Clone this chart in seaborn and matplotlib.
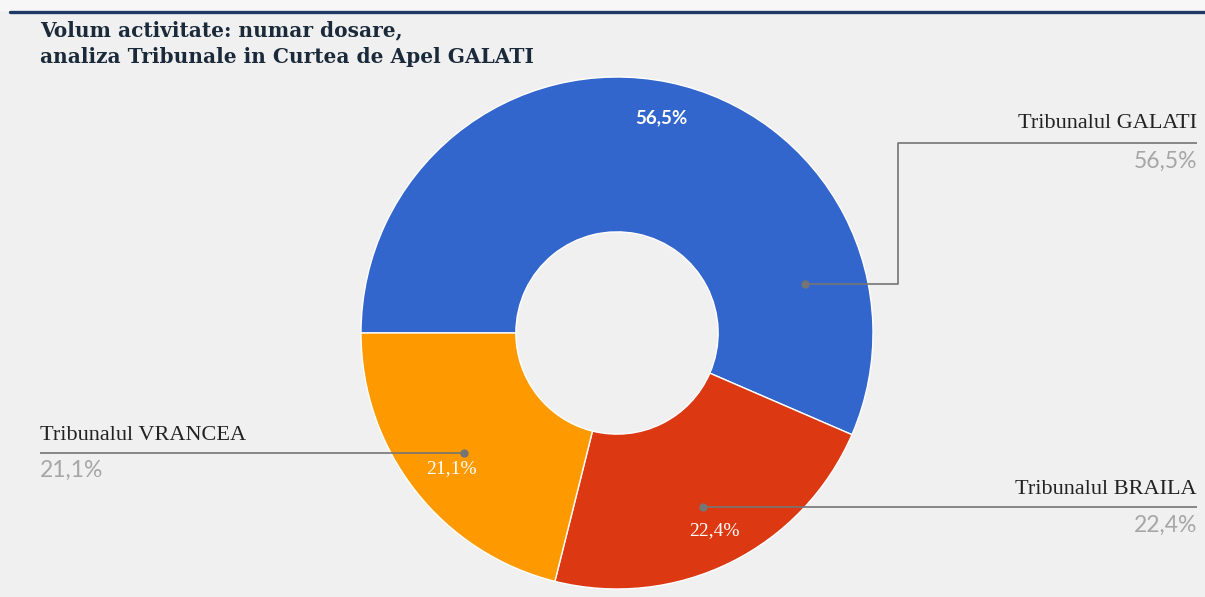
import numpy as np
import matplotlib
matplotlib.use("Agg")
import matplotlib.pyplot as plt
import seaborn as sns

# ── Date ──────────────────────────────────────────────────────────────────────
tribunale = ["Tribunalul GALATI", "Tribunalul BRAILA", "Tribunalul VRANCEA"]
procente = [56.5, 22.4, 21.1]
culori = ["#3366cc", "#dc3912", "#ff9900"]
titlu = "Volum activitate: numar dosare,\nanaliza Tribunale in Curtea de Apel GALATI"


def fmt(p):
    return f"{p:.1f}%".replace(".", ",")


# ── Tema ──────────────────────────────────────────────────────────────────────
sns.set_theme(style="white", rc={"figure.facecolor": "#f0f0f0",
                                 "axes.facecolor": "#f0f0f0"})
plt.rcParams["font.family"] = ["Liberation Serif", "DejaVu Serif"]

W, H = 1205, 597
fig = plt.figure(figsize=(W / 100, H / 100), dpi=100)
ax = fig.add_axes([0, 0, 1, 1])

# donut: centru si raza in pixeli (y in sus)
cx, cy, R = 617, H - 333, 256
wedges, texts, autotexts = ax.pie(
    procente, colors=culori, startangle=180, counterclock=False,
    center=(cx, cy), radius=R, autopct=fmt, pctdistance=0.86,
    wedgeprops=dict(width=R * 0.605, edgecolor="white", linewidth=1),
    textprops=dict(color="white", fontsize=14),
)
autotexts[0].set_family(["Lato", "DejaVu Sans"])
autotexts[0].set_fontweight("bold")
autotexts[0].set_fontsize(13.5)
autotexts[2].set_x(autotexts[2].get_position()[0] + 8)
ax.set_xlim(0, W)
ax.set_ylim(0, H)
ax.axis("off")

# ── Etichete cu linii de legatura ─────────────────────────────────────────────
gri = "#757575"
unghiuri = [14.6, None, None]          # None -> mijlocul felei
trasee = [[(898, None), (898, 143), (1197, 143)],
          [(1197, None)],
          [(40, None)]]
pozitii = [(1197, 124, 161, "right"), (1197, 489, 525, "right"),
           (40, 435, 470, "left")]

for w, nume, pct, ung, traseu, (tx, ly, py, ha) in zip(
        wedges, tribunale, procente, unghiuri, trasee, pozitii):
    a = np.deg2rad(ung if ung is not None else (w.theta1 + w.theta2) / 2)
    x0, y0 = cx + 0.76 * R * np.cos(a), cy + 0.76 * R * np.sin(a)
    xs, ys = [x0], [y0]
    for px, pyy in traseu:
        xs.append(px)
        ys.append(y0 if pyy is None else H - pyy)
    ax.plot(xs, ys, color=gri, lw=1.2, solid_capstyle="butt")
    ax.plot(x0, y0, "o", color=gri, ms=5)
    ax.text(tx, H - ly, nume, ha=ha, va="center", fontsize=16, color="#222222")
    ax.text(tx, H - py, fmt(pct), ha=ha, va="center", fontsize=16.5,
            color="#a6a6a6", family=["Lato", "DejaVu Sans"])

# ── Titlu si chenar ───────────────────────────────────────────────────────────
fig.text(40 / W, 1 - 20 / H, titlu, ha="left", va="top", fontsize=14.5,
         fontweight="bold", color="#1a2a3a", linespacing=1.45,
         family=["DejaVu Serif"])
fig.patches.append(plt.Rectangle((0, 1 - 10 / H), 1, 10 / H, transform=fig.transFigure,
                                 color="#f7f7f7", zorder=0))
fig.lines.append(plt.Line2D([10 / W, 1], [1 - 11.5 / H] * 2, transform=fig.transFigure,
                            color="#1f3864", lw=2.4))

fig.savefig("out.png", dpi=100, facecolor=fig.get_facecolor())
